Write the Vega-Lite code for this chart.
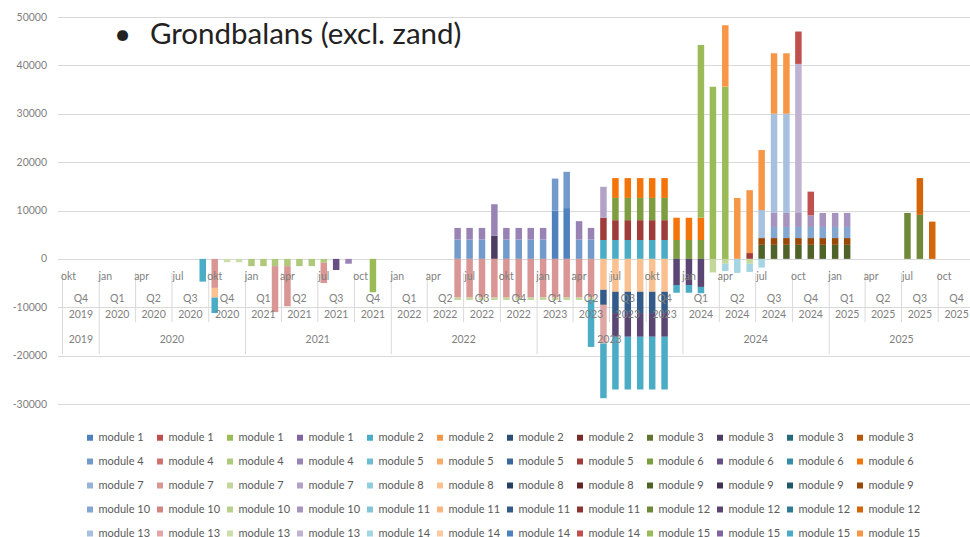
{
"$schema": "https://vega.github.io/schema/vega-lite/v6.json",
"width": 912.5, "height": 387, "autosize": "none",
"padding": {"left": 57.5, "top": 17, "right": 0, "bottom": 133},
"background": "white",
"config": {"view": {"stroke": null}, "font": "Lato"},
"datasets": {
"qb": [{"m":"2019-10-01"},{"m":"2020-04-01"},{"m":"2020-07-01"},{"m":"2020-10-01"},{"m":"2021-04-01"},{"m":"2021-07-01"},{"m":"2021-10-01"},{"m":"2022-04-01"},{"m":"2022-07-01"},{"m":"2022-10-01"},{"m":"2023-04-01"},{"m":"2023-07-01"},{"m":"2023-10-01"},{"m":"2024-04-01"},{"m":"2024-07-01"},{"m":"2024-10-01"},{"m":"2025-04-01"},{"m":"2025-07-01"},{"m":"2025-10-01"}],
"yb": [{"m":"2019-10-01"},{"m":"2020-01-01"},{"m":"2021-01-01"},{"m":"2022-01-01"},{"m":"2023-01-01"},{"m":"2024-01-01"},{"m":"2025-01-01"}],
"ml": [{"m":"2019-10-16","t":"okt"},{"m":"2020-01-16","t":"jan"},{"m":"2020-04-16","t":"apr"},{"m":"2020-07-16","t":"jul"},{"m":"2020-10-16","t":"okt"},{"m":"2021-01-16","t":"jan"},{"m":"2021-04-16","t":"apr"},{"m":"2021-07-16","t":"jul"},{"m":"2021-10-16","t":"oct"},{"m":"2022-01-16","t":"jan"},{"m":"2022-04-16","t":"apr"},{"m":"2022-07-16","t":"jul"},{"m":"2022-10-16","t":"okt"},{"m":"2023-01-16","t":"jan"},{"m":"2023-04-16","t":"apr"},{"m":"2023-07-16","t":"jul"},{"m":"2023-10-16","t":"okt"},{"m":"2024-01-16","t":"jan"},{"m":"2024-04-16","t":"apr"},{"m":"2024-07-16","t":"jul"},{"m":"2024-10-16","t":"oct"},{"m":"2025-01-16","t":"jan"},{"m":"2025-04-16","t":"apr"},{"m":"2025-07-16","t":"jul"},{"m":"2025-10-16","t":"oct"}],
"ql": [{"m":"2019-11-16","q":"Q4","qy":"2019"},
{"m":"2020-02-15","q":"Q1","qy":"2020"},{"m":"2020-05-16","q":"Q2","qy":"2020"},{"m":"2020-08-16","q":"Q3","qy":"2020"},{"m":"2020-11-16","q":"Q4","qy":"2020"},
{"m":"2021-02-15","q":"Q1","qy":"2021"},{"m":"2021-05-16","q":"Q2","qy":"2021"},{"m":"2021-08-16","q":"Q3","qy":"2021"},{"m":"2021-11-16","q":"Q4","qy":"2021"},
{"m":"2022-02-15","q":"Q1","qy":"2022"},{"m":"2022-05-16","q":"Q2","qy":"2022"},{"m":"2022-08-16","q":"Q3","qy":"2022"},{"m":"2022-11-16","q":"Q4","qy":"2022"},
{"m":"2023-02-15","q":"Q1","qy":"2023"},{"m":"2023-05-16","q":"Q2","qy":"2023"},{"m":"2023-08-16","q":"Q3","qy":"2023"},{"m":"2023-11-16","q":"Q4","qy":"2023"},
{"m":"2024-02-15","q":"Q1","qy":"2024"},{"m":"2024-05-16","q":"Q2","qy":"2024"},{"m":"2024-08-16","q":"Q3","qy":"2024"},{"m":"2024-11-16","q":"Q4","qy":"2024"},
{"m":"2025-02-15","q":"Q1","qy":"2025"},{"m":"2025-05-16","q":"Q2","qy":"2025"},{"m":"2025-08-16","q":"Q3","qy":"2025"},{"m":"2025-11-16","q":"Q4","qy":"2025"}],
"yl": [{"m":"2019-11-16","y":"2019"},{"m":"2020-07-01","y":"2020"},{"m":"2021-07-01","y":"2021"},{"m":"2022-07-01","y":"2022"},{"m":"2023-07-01","y":"2023"},{"m":"2024-07-01","y":"2024"},{"m":"2025-07-01","y":"2025"}],
"bars": [
{"m":"2020-09-16","s":"05","v":-4700},
{"m":"2020-10-16","s":"26","v":-6000},{"m":"2020-10-16","s":"30","v":-2000},{"m":"2020-10-16","s":"59","v":-3200},
{"m":"2020-11-16","s":"51","v":-700},{"m":"2020-12-16","s":"51","v":-700},
{"m":"2021-01-16","s":"15","v":-1500},{"m":"2021-02-15","s":"15","v":-1500},
{"m":"2021-03-16","s":"15","v":-1500},{"m":"2021-03-16","s":"26","v":-9500},
{"m":"2021-04-16","s":"15","v":-1500},{"m":"2021-04-16","s":"26","v":-8300},
{"m":"2021-05-16","s":"15","v":-1500},{"m":"2021-06-16","s":"15","v":-1500},
{"m":"2021-07-16","s":"15","v":-800},{"m":"2021-07-16","s":"26","v":-4200},
{"m":"2021-08-16","s":"22","v":-2300},{"m":"2021-09-16","s":"16","v":-1000},
{"m":"2021-11-16","s":"03","v":-6900},
{"m":"2022-06-16","s":"13","v":4000},{"m":"2022-06-16","s":"16","v":2400},{"m":"2022-06-16","s":"26","v":-8000},{"m":"2022-06-16","s":"27","v":-500},
{"m":"2022-07-16","s":"13","v":4000},{"m":"2022-07-16","s":"16","v":2400},{"m":"2022-07-16","s":"26","v":-8000},{"m":"2022-07-16","s":"27","v":-500},
{"m":"2022-08-16","s":"13","v":4000},{"m":"2022-08-16","s":"16","v":2400},{"m":"2022-08-16","s":"26","v":-8000},{"m":"2022-08-16","s":"27","v":-500},
{"m":"2022-09-16","s":"10","v":4800},{"m":"2022-09-16","s":"16","v":6500},{"m":"2022-09-16","s":"26","v":-8000},{"m":"2022-09-16","s":"27","v":-500},
{"m":"2022-10-16","s":"13","v":4000},{"m":"2022-10-16","s":"16","v":2400},{"m":"2022-10-16","s":"26","v":-8000},{"m":"2022-10-16","s":"27","v":-500},
{"m":"2022-11-16","s":"13","v":4000},{"m":"2022-11-16","s":"16","v":2400},{"m":"2022-11-16","s":"26","v":-8000},{"m":"2022-11-16","s":"27","v":-500},
{"m":"2022-12-16","s":"13","v":4000},{"m":"2022-12-16","s":"16","v":2400},{"m":"2022-12-16","s":"26","v":-8000},{"m":"2022-12-16","s":"27","v":-500},
{"m":"2023-01-16","s":"13","v":4000},{"m":"2023-01-16","s":"16","v":2400},{"m":"2023-01-16","s":"26","v":-8000},{"m":"2023-01-16","s":"27","v":-500},
{"m":"2023-02-15","s":"01","v":10000},{"m":"2023-02-15","s":"13","v":6600},{"m":"2023-02-15","s":"26","v":-8000},{"m":"2023-02-15","s":"27","v":-500},
{"m":"2023-03-16","s":"01","v":10500},{"m":"2023-03-16","s":"13","v":7500},{"m":"2023-03-16","s":"26","v":-8000},{"m":"2023-03-16","s":"27","v":-500},
{"m":"2023-04-16","s":"13","v":4000},{"m":"2023-04-16","s":"16","v":3800},{"m":"2023-04-16","s":"26","v":-8000},{"m":"2023-04-16","s":"27","v":-500},
{"m":"2023-05-16","s":"13","v":4000},{"m":"2023-05-16","s":"16","v":2400},{"m":"2023-05-16","s":"26","v":-8000},{"m":"2023-05-16","s":"27","v":-500},{"m":"2023-05-16","s":"59","v":-9700},
{"m":"2023-06-16","s":"05","v":3900},{"m":"2023-06-16","s":"20","v":4600},{"m":"2023-06-16","s":"28","v":6400},{"m":"2023-06-16","s":"30","v":-6400},{"m":"2023-06-16","s":"43","v":-3100},{"m":"2023-06-16","s":"50","v":-8000},{"m":"2023-06-16","s":"59","v":-11300},
{"m":"2023-07-16","s":"05","v":3900},{"m":"2023-07-16","s":"20","v":4100},{"m":"2023-07-16","s":"21","v":4600},{"m":"2023-07-16","s":"24","v":4100},{"m":"2023-07-16","s":"30","v":-6800},{"m":"2023-07-16","s":"43","v":-4400},{"m":"2023-07-16","s":"46","v":-4900},{"m":"2023-07-16","s":"59","v":-10900},
{"m":"2023-08-16","s":"05","v":3900},{"m":"2023-08-16","s":"20","v":4100},{"m":"2023-08-16","s":"21","v":4600},{"m":"2023-08-16","s":"24","v":4100},{"m":"2023-08-16","s":"30","v":-6800},{"m":"2023-08-16","s":"43","v":-4400},{"m":"2023-08-16","s":"46","v":-4900},{"m":"2023-08-16","s":"59","v":-10900},
{"m":"2023-09-16","s":"05","v":3900},{"m":"2023-09-16","s":"20","v":4100},{"m":"2023-09-16","s":"21","v":4600},{"m":"2023-09-16","s":"24","v":4100},{"m":"2023-09-16","s":"30","v":-6800},{"m":"2023-09-16","s":"43","v":-4400},{"m":"2023-09-16","s":"46","v":-4900},{"m":"2023-09-16","s":"59","v":-10900},
{"m":"2023-10-16","s":"05","v":3900},{"m":"2023-10-16","s":"20","v":4100},{"m":"2023-10-16","s":"21","v":4600},{"m":"2023-10-16","s":"24","v":4100},{"m":"2023-10-16","s":"30","v":-6800},{"m":"2023-10-16","s":"43","v":-4400},{"m":"2023-10-16","s":"46","v":-4900},{"m":"2023-10-16","s":"59","v":-10900},
{"m":"2023-11-16","s":"05","v":3900},{"m":"2023-11-16","s":"20","v":4100},{"m":"2023-11-16","s":"21","v":4600},{"m":"2023-11-16","s":"24","v":4100},{"m":"2023-11-16","s":"30","v":-6800},{"m":"2023-11-16","s":"43","v":-4400},{"m":"2023-11-16","s":"46","v":-4900},{"m":"2023-11-16","s":"59","v":-10900},
{"m":"2023-12-16","s":"21","v":3900},{"m":"2023-12-16","s":"24","v":4600},{"m":"2023-12-16","s":"46","v":-5400},{"m":"2023-12-16","s":"59","v":-1600},
{"m":"2024-01-16","s":"21","v":3900},{"m":"2024-01-16","s":"24","v":4600},{"m":"2024-01-16","s":"46","v":-5400},{"m":"2024-01-16","s":"59","v":-1600},
{"m":"2024-02-15","s":"21","v":3900},{"m":"2024-02-15","s":"24","v":4600},{"m":"2024-02-15","s":"57","v":35700},{"m":"2024-02-15","s":"46","v":-5800},{"m":"2024-02-15","s":"59","v":-1300},
{"m":"2024-03-16","s":"57","v":35600},{"m":"2024-03-16","s":"27","v":-2800},
{"m":"2024-04-16","s":"57","v":35600},{"m":"2024-04-16","s":"60","v":12700},{"m":"2024-04-16","s":"27","v":-1000},{"m":"2024-04-16","s":"53","v":-1500},
{"m":"2024-05-16","s":"60","v":12600},{"m":"2024-05-16","s":"53","v":-2900},
{"m":"2024-06-16","s":"20","v":1200},{"m":"2024-06-16","s":"60","v":13000},{"m":"2024-06-16","s":"27","v":-1000},{"m":"2024-06-16","s":"53","v":-1700},
{"m":"2024-07-16","s":"33","v":2900},{"m":"2024-07-16","s":"36","v":1400},{"m":"2024-07-16","s":"49","v":5800},{"m":"2024-07-16","s":"60","v":12400},{"m":"2024-07-16","s":"53","v":-1800},
{"m":"2024-08-16","s":"33","v":2900},{"m":"2024-08-16","s":"36","v":1400},{"m":"2024-08-16","s":"37","v":2300},{"m":"2024-08-16","s":"40","v":2900},{"m":"2024-08-16","s":"49","v":20500},{"m":"2024-08-16","s":"60","v":12500},
{"m":"2024-09-16","s":"33","v":2900},{"m":"2024-09-16","s":"36","v":1400},{"m":"2024-09-16","s":"37","v":2300},{"m":"2024-09-16","s":"40","v":2900},{"m":"2024-09-16","s":"49","v":20500},{"m":"2024-09-16","s":"60","v":12500},
{"m":"2024-10-16","s":"33","v":2900},{"m":"2024-10-16","s":"36","v":1400},{"m":"2024-10-16","s":"37","v":2300},{"m":"2024-10-16","s":"40","v":2900},{"m":"2024-10-16","s":"52","v":30800},{"m":"2024-10-16","s":"56","v":6700},
{"m":"2024-11-16","s":"33","v":2900},{"m":"2024-11-16","s":"36","v":1400},{"m":"2024-11-16","s":"37","v":2300},{"m":"2024-11-16","s":"40","v":2400},{"m":"2024-11-16","s":"56","v":4900},
{"m":"2024-12-16","s":"33","v":2900},{"m":"2024-12-16","s":"36","v":1400},{"m":"2024-12-16","s":"37","v":2300},{"m":"2024-12-16","s":"40","v":2900},
{"m":"2025-01-16","s":"33","v":2900},{"m":"2025-01-16","s":"36","v":1400},{"m":"2025-01-16","s":"37","v":2300},{"m":"2025-01-16","s":"40","v":2900},
{"m":"2025-02-15","s":"33","v":2900},{"m":"2025-02-15","s":"36","v":1400},{"m":"2025-02-15","s":"37","v":2300},{"m":"2025-02-15","s":"40","v":2900},
{"m":"2025-07-16","s":"45","v":9500},
{"m":"2025-08-16","s":"45","v":9100},{"m":"2025-08-16","s":"48","v":7600},
{"m":"2025-09-16","s":"48","v":7700}
]
},
"encoding": {"x": {"field": "m", "type": "temporal", "scale": {"type": "utc", "domain": [{"year": 2019, "month": 10, "date": 1, "utc": true}, {"year": 2025, "month": 12, "date": 7, "utc": true}]}, "axis": null}},
"layer": [
{"data": {"name": "qb"}, "mark": {"type": "rule", "color": "#d9d9d9", "strokeWidth": 1},
 "encoding": {"y": {"datum": -2900, "type": "quantitative", "scale": {"domain": [-30000, 50000], "nice": false, "zero": false}}, "y2": {"datum": -13100}}},
{"data": {"name": "yb"}, "mark": {"type": "rule", "color": "#d9d9d9", "strokeWidth": 1},
 "encoding": {"y": {"datum": -2900, "type": "quantitative", "scale": {"domain": [-30000, 50000], "nice": false, "zero": false}}, "y2": {"datum": -19700}}},
{"data": {"name": "bars"}, "mark": {"type": "bar", "width": 6.5},
 "encoding": {
  "y": {"field": "v", "type": "quantitative", "stack": "zero",
        "scale": {"domain": [-30000, 50000], "nice": false, "zero": false},
        "axis": {"title": "•\u00a0\u00a0\u2009Grondbalans (excl. zand)", "titleX": 56, "titleY": 26, "titleAngle": 0, "titleAlign": "left", "titleBaseline": "alphabetic", "titleFont": "Lato", "titleFontSize": 29.5, "titleFontWeight": "normal", "titleColor": "#222222",
                 "values": [-30000, -20000, -10000, 0, 10000, 20000, 30000, 40000, 50000], "labelExpr": "datum.value + ''", "grid": true, "gridColor": "#d9d9d9", "domain": false, "ticks": false, "labelColor": "#7f7f7f", "labelFontSize": 10.5, "labelFont": "Lato", "labelPadding": 11}},
  "order": {"field": "s", "type": "ordinal", "sort": "ascending"},
  "color": {"field": "s", "type": "nominal",
   "scale": {"domain": ["01","02","03","04","05","06","07","08","09","10","11","12","13","14","15","16","17","18","19","20","21","22","23","24","25","26","27","28","29","30","31","32","33","34","35","36","37","38","39","40","41","42","43","44","45","46","47","48","49","50","51","52","53","54","55","56","57","58","59","60"],
    "range": ["#4F81BD","#C0504D","#9BBB59","#8064A2","#4BACC6","#F79646","#2C4D75","#772C2A","#5F7530","#4D3B62","#276A7C","#B65708","#729ACA","#CD7371","#AFC97A","#9983B5","#6FBDD1","#F9AB6B","#3A679C","#9F3B38","#7E9D40","#664F83","#358EA6","#F3740B","#95B3D7","#D99694","#C3D69B","#B3A2C7","#93CDDD","#FAC090","#254061","#632523","#4F6228","#403152","#215968","#984807","#84A7D1","#D38582","#B9CF8B","#A693BE","#81C5D7","#F9B57E","#335A88","#8B3431","#6F8938","#5A4573","#2E7C91","#D56509","#A7C0DE","#DFA8A6","#CDDDAC","#C0B2D1","#A5D5E2","#FBCAA3","#4F81BD","#C0504D","#9BBB59","#8064A2","#4BACC6","#F79646"]},
   "legend": {"title": null, "orient": "none", "legendX": 27, "legendY": 415, "direction": "horizontal", "columns": 12, "symbolLimit": 0, "symbolType": "square", "symbolSize": 36, "symbolStrokeWidth": 0, "labelFont": "Lato", "labelFontSize": 11, "labelColor": "#595959", "labelExpr": "'module ' + ceil(toNumber(datum.label) / 4)", "gridAlign": "all", "columnPadding": 4, "rowPadding": 12, "padding": 0, "labelOffset": 3, "labelLimit": 100}}
 }},
{"data": {"name": "ml"}, "mark": {"type": "text", "fontSize": 10.5, "color": "#7f7f7f", "baseline": "middle", "font": "Lato"},
 "encoding": {"y": {"datum": -3700, "type": "quantitative", "scale": {"domain": [-30000, 50000], "nice": false, "zero": false}}, "text": {"field": "t"}}},
{"data": {"name": "ql"}, "mark": {"type": "text", "fontSize": 10.5, "color": "#7f7f7f", "baseline": "middle", "font": "Lato"},
 "encoding": {"y": {"datum": -8270, "type": "quantitative", "scale": {"domain": [-30000, 50000], "nice": false, "zero": false}}, "text": {"field": "q"}}},
{"data": {"name": "ql"}, "mark": {"type": "text", "fontSize": 10.5, "color": "#7f7f7f", "baseline": "middle", "font": "Lato"},
 "encoding": {"y": {"datum": -11580, "type": "quantitative", "scale": {"domain": [-30000, 50000], "nice": false, "zero": false}}, "text": {"field": "qy"}}},
{"data": {"name": "yl"}, "mark": {"type": "text", "fontSize": 10.5, "color": "#7f7f7f", "baseline": "middle", "font": "Lato"},
 "encoding": {"y": {"datum": -16740, "type": "quantitative", "scale": {"domain": [-30000, 50000], "nice": false, "zero": false}}, "text": {"field": "y"}}}
]
}
